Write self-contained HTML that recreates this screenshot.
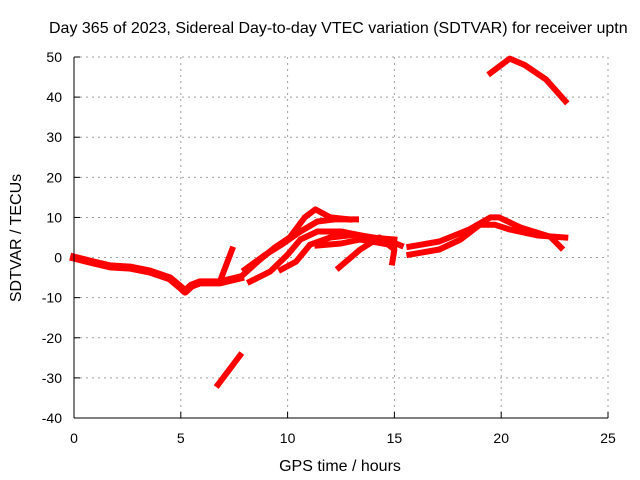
<!DOCTYPE html>
<html><head><meta charset="utf-8"><style>
body{margin:0;background:#fff}
svg{display:block;font-family:"Liberation Sans",sans-serif}
</style></head><body>
<svg id="chart" width="640" height="480" viewBox="0 0 640 480" xmlns="http://www.w3.org/2000/svg">
<text x="49" y="33" font-size="16" fill="#000">Day 365 of 2023, Sidereal Day-to-day VTEC variation (SDTVAR) for receiver uptn</text>
<g id="grid"></g>
<g id="ticks"></g>
<g id="series"></g>
<line x1="74" y1="57" x2="74" y2="418" stroke="#000"/>
<line x1="74" y1="418" x2="608" y2="418" stroke="#000"/>
<text x="340" y="471" font-size="16" text-anchor="middle">GPS time / hours</text>
<text transform="translate(21,238) rotate(-90)" font-size="16" text-anchor="middle">SDTVAR / TECUs</text>
</svg>
<script>
const xTicks=[0,5,10,15,20,25];
const yTicks=[-40,-30,-20,-10,0,10,20,30,40,50];
const s1x=[0,0.75,1.69,2.62,3.56,4.49,5.0,5.2,5.5,5.9,6.83,7.77];
const s1y=[0,-1,-2.2,-2.5,-3.5,-5.2,-7.5,-8.5,-7,-6.2,-6.2,-5];
const s2x=[6.9,7.4];
const s2y=[-5,2];
const s3x=[7.77,8.6,9.4,10.1,10.8,11.3,12,12.9];
const s3y=[-5,-1,2.5,5,10,12,10,9.5];
const s4x=[8.0,8.96,9.66,10.6,11.4,12.2,13.2];
const s4y=[-3,0.7,3,6.5,9,9.5,9.5];
const s5x=[8.24,9.18,10.0,10.6,11.4,12.5,13.9,15.0];
const s5y=[-6,-3.5,0.7,4.5,6.5,6.5,5,4.5];
const s6x=[9.7,10.4,11.05,12.0,13.2,14.6,15.3];
const s6y=[-3,-1,3.2,5,5.7,4.5,3];
const s7x=[11.4,12.5,13.4,15.0];
const s7y=[3,3.5,4.5,3];
const s8x=[12.4,13.4,14.3,15.0,14.9];
const s8y=[-2.5,2,5,2,-1.2];
const s9x=[15.7,17.1,18.1,19.0,19.7,20.4,21.7,23.0];
const s9y=[0.7,2,4.5,8.2,8.2,7,5.5,5];
const s10x=[15.7,17.1,18.5,19.5,19.9,20.9,22.3,22.8];
const s10y=[2.7,4,7,10,10,7.5,5.2,2.5];
const s11x=[6.74,7.77];
const s11y=[-31.7,-24.4];
const s12x=[19.5,20.4,21.1,22.1,23.0];
const s12y=[46,49.6,48,44.4,39];
const allX=[s1x,s2x,s3x,s4x,s5x,s6x,s7x,s8x,s9x,s10x,s11x,s12x];
const allY=[s1y,s2y,s3y,s4y,s5y,s6y,s7y,s8y,s9y,s10y,s11y,s12y];
const NS="http://www.w3.org/2000/svg";
const X=v=>74+v*(534/25);
const Y=v=>418-(v+40)*(361/90);
const grid=document.getElementById('grid'),ticks=document.getElementById('ticks'),ser=document.getElementById('series');
function mk(tag,attrs,parent){const e=document.createElementNS(NS,tag);for(const k in attrs)e.setAttribute(k,attrs[k]);parent.appendChild(e);return e;}
xTicks.forEach(t=>{
  if(t>0){const l=mk('line',{x1:X(t),y1:57,x2:X(t),y2:418,stroke:'#a0a0a0','stroke-dasharray':'2,4'},grid);
  
  }
  const tk=mk('line',{x1:X(t),y1:418,x2:X(t),y2:412,stroke:'#000'},grid);
  
  
  const tx=mk('text',{x:X(t),y:443,'font-size':14,'text-anchor':'middle'},ticks);tx.textContent=t;
  
  
});
yTicks.forEach(t=>{
  if(t>-40){const l=mk('line',{x1:74,y1:Y(t),x2:608,y2:Y(t),stroke:'#a0a0a0','stroke-dasharray':'2,4'},grid);
  
  }
  const tk=mk('line',{x1:74,y1:Y(t),x2:80,y2:Y(t),stroke:'#000'},grid);
  
  
  const tx=mk('text',{x:62,y:Y(t)+5,'font-size':14,'text-anchor':'end'},ticks);tx.textContent=t;
  
  
});
allX.forEach((xs,i)=>{
  const ys=allY[i];
  const pts=xs.map((x,j)=>X(x).toFixed(1)+','+Y(ys[j]).toFixed(1)).join(' ');
  const p=mk('polyline',{points:pts,fill:'none',stroke:'#ff0000','stroke-width':i===0?8:6,'stroke-linejoin':'round','stroke-linecap':'square'},ser);
  
  
});
</script>
</body></html>
